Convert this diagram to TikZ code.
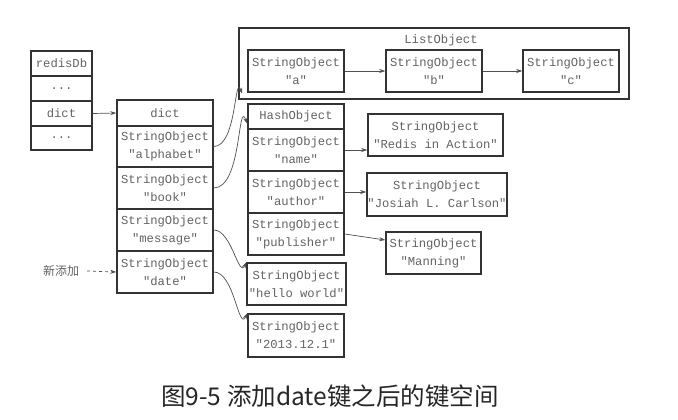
\documentclass[tikz,border=0pt]{standalone}
\usepackage{fontspec}
\setmonofont{Liberation Mono}
\newfontfamily\cjk{Noto Sans CJK SC}
\usetikzlibrary{arrows.meta,calc}
\definecolor{txt}{HTML}{626262}
\definecolor{bord}{HTML}{333333}
\definecolor{conn}{HTML}{505050}
\begin{document}
\begin{tikzpicture}[x=1pt,y=-1pt,
 box/.style={draw=bord,line width=1.5pt,inner sep=0pt,align=center,text=txt,font=\ttfamily\fontsize{12.2}{18}\selectfont},
 arr/.style={draw=conn,line width=0.7pt,-{Stealth[length=6pt,width=4pt]}},
 lbl/.style={text=txt,font=\ttfamily\fontsize{12.2}{18}\selectfont,inner sep=0pt}]
\useasboundingbox (0,0) rectangle (678,420);
% redisDb
\node[box,minimum width=61pt,minimum height=25pt] (r1) at (61.5,63.5) {redisDb};
\node[box,minimum width=61pt,minimum height=25pt] (r2) at (61.5,88.5) {...};
\node[box,minimum width=61pt,minimum height=25pt] (r3) at (61.5,113.5) {dict};
\node[box,minimum width=61pt,minimum height=24pt] (r4) at (61.5,138) {...};
% dict
\node[box,minimum width=96pt,minimum height=26pt] (dh) at (165,113) {dict};
\node[box,minimum width=96pt,minimum height=41pt] (dal) at (165,146.5) {StringObject\\"alphabet"};
\node[box,minimum width=96pt,minimum height=42pt] (dbk) at (165,188) {StringObject\\"book"};
\node[box,minimum width=96pt,minimum height=42pt] (dms) at (165,230) {StringObject\\"message"};
\node[box,minimum width=96pt,minimum height=42pt] (ddt) at (165,272) {StringObject\\"date"};
% ListObject
\node[box,minimum width=390pt,minimum height=71pt] (lo) at (434,63.5) {};
\node[lbl] (lol) at (441,40) {ListObject};
\node[box,minimum width=96pt,minimum height=42pt] (la) at (296,71) {StringObject\\"a"};
\node[box,minimum width=96pt,minimum height=42pt] (lb) at (434,71) {StringObject\\"b"};
\node[box,minimum width=96pt,minimum height=42pt] (lc) at (571,71) {StringObject\\"c"};
% HashObject
\node[box,minimum width=96pt,minimum height=25pt] (hh) at (296,116.5) {HashObject};
\node[box,minimum width=96pt,minimum height=42pt] (hn) at (296,150) {StringObject\\"name"};
\node[box,minimum width=96pt,minimum height=42pt] (ha) at (296,192) {StringObject\\"author"};
\node[box,minimum width=96pt,minimum height=42pt] (hp) at (296,234) {StringObject\\"publisher"};
% values
\node[box,minimum width=135pt,minimum height=42pt] (ria) at (435.5,135) {StringObject\\"Redis in Action"};
\node[box,minimum width=140pt,minimum height=43pt] (jo) at (437,194.5) {StringObject\\"Josiah L. Carlson"};
\node[box,minimum width=95pt,minimum height=42pt] (mn) at (433.5,253) {StringObject\\"Manning"};
\node[box,minimum width=99pt,minimum height=42pt] (hw) at (296.5,284) {StringObject\\"hello world"};
\node[box,minimum width=96pt,minimum height=43pt] (dv) at (296,335.5) {StringObject\\"2013.12.1"};
% new label
\node[text=txt,font=\cjk\fontsize{12}{14}\selectfont,inner sep=0pt] (xin) at (61,271) {新添加};
% caption
\node[text=black!85,font=\cjk\fontsize{24.5}{27}\selectfont,inner sep=0pt] (cap) at (330,396) {图9-5 添加date键之后的键空间};
% connectors
\coordinate (ltip) at ($(lo.south west)+(4,-6)$);
\coordinate (htip) at ($(hh.south west)+(0,-6)$);
\coordinate (mtip) at ($(mn.west)+(0,-13)$);
\draw[arr] (r3.east) -- (dh.west);
\draw[arr] (dal.east) to[out=0,in=110] (ltip);
\draw[arr] (dbk.east) to[out=0,in=110] (htip);
\draw[arr] (dms.east) to[out=0,in=245] (hw.north west);
\draw[arr] (ddt.east) to[out=0,in=245] (dv.north west);
\draw[arr] (la.east) -- (lb.west);
\draw[arr] (lb.east) -- (lc.west);
\draw[arr] (hn.east) -- (hn.east -| ria.west);
\draw[arr] (ha.east) -- (ha.east -| jo.west);
\draw[arr] (hp.east) -- (mtip);
\draw[arr,dashed] ($(xin.east)+(8,0)$) -- (ddt.west);
\end{tikzpicture}
\end{document}
